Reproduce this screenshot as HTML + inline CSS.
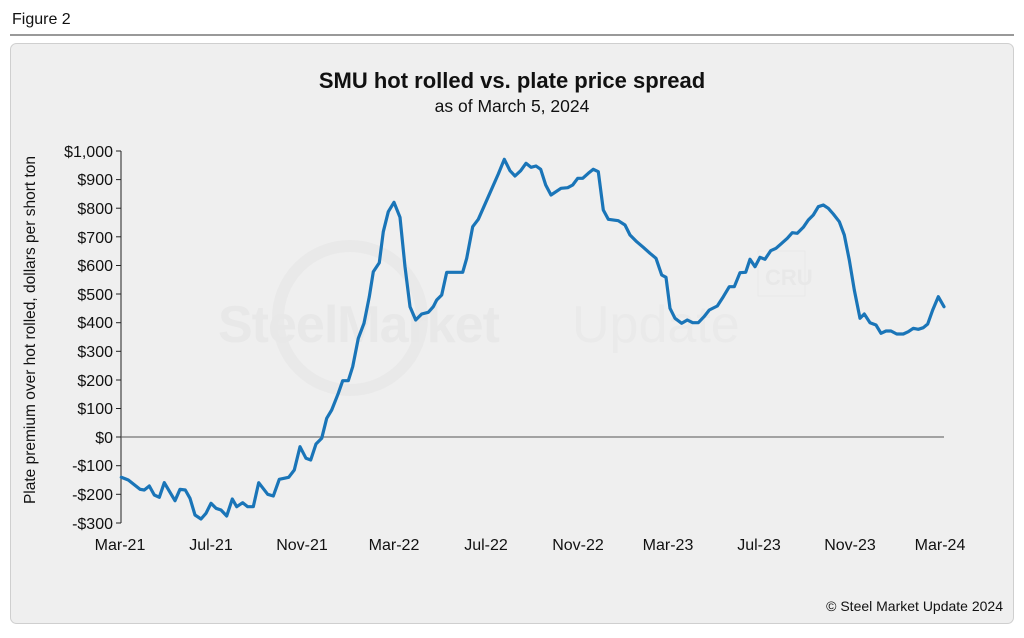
<!DOCTYPE html>
<html><head><meta charset="utf-8"><style>
html,body{margin:0;padding:0;background:#fff;}
body{width:1024px;height:633px;position:relative;overflow:hidden;font-family:"Liberation Sans",Arial,sans-serif;}
</style></head><body>
<svg width="1024" height="633" xmlns="http://www.w3.org/2000/svg" font-family="Liberation Sans, Arial, sans-serif">
<rect x="0" y="0" width="1024" height="633" fill="#ffffff"/>
<text x="12" y="24" font-size="16" fill="#111">Figure 2</text>
<line x1="10" y1="35" x2="1014" y2="35" stroke="#333" stroke-width="1"/>
<rect x="10.5" y="43.5" width="1003" height="580" rx="6" fill="#efefef" stroke="#cfcfcf"/>
<!-- watermark -->
<g opacity="0.45">
<circle cx="350" cy="318" r="72" fill="none" stroke="#e2e2e2" stroke-width="12"/>
<text x="218" y="342" font-size="52" font-weight="bold" fill="#e0e0e0" letter-spacing="-1">SteelMarket</text>
<text x="572" y="342" font-size="52" fill="#e4e4e4">Update</text>
<rect x="758" y="251" width="47" height="45" fill="none" stroke="#e2e2e2"/>
<text x="765" y="285" font-size="22" font-weight="bold" fill="#e0e0e0">CRU</text>
</g>
<text x="512" y="88" font-size="22" font-weight="bold" text-anchor="middle" fill="#111">SMU hot rolled vs. plate price spread</text>
<text x="512" y="112" font-size="17.5" text-anchor="middle" fill="#111">as of March 5, 2024</text>
<text transform="translate(35,330) rotate(-90)" font-size="15.5" text-anchor="middle" fill="#111">Plate premium over hot rolled, dollars per short ton</text>
<g font-size="16" fill="#111" text-anchor="end">
<text x="113" y="157">$1,000</text><text x="113" y="185">$900</text><text x="113" y="214">$800</text><text x="113" y="243">$700</text><text x="113" y="271">$600</text><text x="113" y="300">$500</text><text x="113" y="328">$400</text><text x="113" y="357">$300</text><text x="113" y="386">$200</text><text x="113" y="414">$100</text><text x="113" y="443">$0</text><text x="113" y="471">-$100</text><text x="113" y="500">-$200</text><text x="113" y="529">-$300</text>
</g>
<g stroke="#222" stroke-width="1">
<line x1="121" y1="151" x2="121" y2="523"/>
<line x1="116" y1="151" x2="121" y2="151"/><line x1="116" y1="179.6" x2="121" y2="179.6"/><line x1="116" y1="208.2" x2="121" y2="208.2"/><line x1="116" y1="236.8" x2="121" y2="236.8"/><line x1="116" y1="265.5" x2="121" y2="265.5"/><line x1="116" y1="294" x2="121" y2="294"/><line x1="116" y1="322.7" x2="121" y2="322.7"/><line x1="116" y1="351.3" x2="121" y2="351.3"/><line x1="116" y1="380" x2="121" y2="380"/><line x1="116" y1="408.5" x2="121" y2="408.5"/><line x1="116" y1="437" x2="121" y2="437"/><line x1="116" y1="465.7" x2="121" y2="465.7"/><line x1="116" y1="494.3" x2="121" y2="494.3"/><line x1="116" y1="523" x2="121" y2="523"/>
</g>
<line x1="121" y1="437" x2="944" y2="437" stroke="#555" stroke-width="1"/>
<g font-size="16" fill="#111" text-anchor="middle">
<text x="120" y="550">Mar-21</text><text x="211" y="550">Jul-21</text><text x="302" y="550">Nov-21</text><text x="394" y="550">Mar-22</text><text x="486" y="550">Jul-22</text><text x="578" y="550">Nov-22</text><text x="668" y="550">Mar-23</text><text x="759" y="550">Jul-23</text><text x="850" y="550">Nov-23</text><text x="940" y="550">Mar-24</text>
</g>
<polyline fill="none" stroke="#1a75b8" stroke-width="3.2" stroke-linejoin="round" stroke-linecap="round" points="121.3,477.3 128.3,480 140,489.3 144.3,490 149.3,486 154.3,495 159.3,497.3 164.3,482.7 175,500.7 180,489.3 185.3,490 190,498.3 195,515 201,519 206,513.3 211,503.3 216,508.3 221,510 226.7,516 232.3,499 236.7,506.7 242.7,502.7 247.7,506.7 253.3,506.7 258.7,482.7 267.7,494.3 273.3,496 279.3,479.3 288.7,477.3 294.3,470 300,446.7 306,458.3 310.7,460 316,444 321.7,438.3 326.7,418.3 331.7,410 338.3,393.3 342.7,380.7 348.3,380.7 352.7,366.7 358.3,338.3 364,323.3 369.3,296.7 373.3,271.7 379.3,262.7 383.3,231.7 388.3,211.7 394,202.3 400,217.3 405,266.7 410,306.7 415.7,320 421.7,314 428.3,312.3 433.3,306.7 436.7,300 441.7,295 446.7,272.3 462.7,272.3 466.7,258.3 472.7,226.7 478.3,219.3 488.3,196.7 498.3,174 504.3,159.3 510,170.7 515,176 520.7,170.7 526,163.3 531,167.3 536,166 540.7,169.3 545.7,185 551,195 561,188.3 567.7,187.7 572.7,185 577.7,178.3 582.7,178.3 588.3,173.3 593.3,169.3 598.3,171.7 603.3,210 608.3,219.3 618.3,220.7 625,225 630,235 636.7,241.7 643.3,247.3 650,253.3 656,258.3 661.7,275 666,277.3 670,308.3 675,318.3 681.7,323.3 687.3,320 692.7,322.7 698.3,322.7 704,316.7 709.3,310 717.3,306 723.3,296.7 729.3,286.7 734.3,286.7 740,272.7 745.7,272.3 750,259.3 755,266.7 760,257.3 765,259.3 770.7,250.7 776,248.3 781.7,243.3 787.3,238.3 792.3,232.7 797.3,233.3 803.3,227.3 808.3,220 813.3,215 818.3,206.7 823.3,205 828.3,208.3 833.3,214 839.3,221.7 844.3,235 849.3,260 854.3,290 860,318.3 864.3,314 870,322.7 876,325 881,333.3 886,331 891,331 896.7,334 903.3,334 908.3,331.7 913.3,328.3 918.3,329.3 923.3,327.7 927.7,324 932.7,310 938.3,296.7 944,306.7"/>
<text x="1003" y="611" font-size="14" text-anchor="end" fill="#111">© Steel Market Update 2024</text>
</svg>
</body></html>
